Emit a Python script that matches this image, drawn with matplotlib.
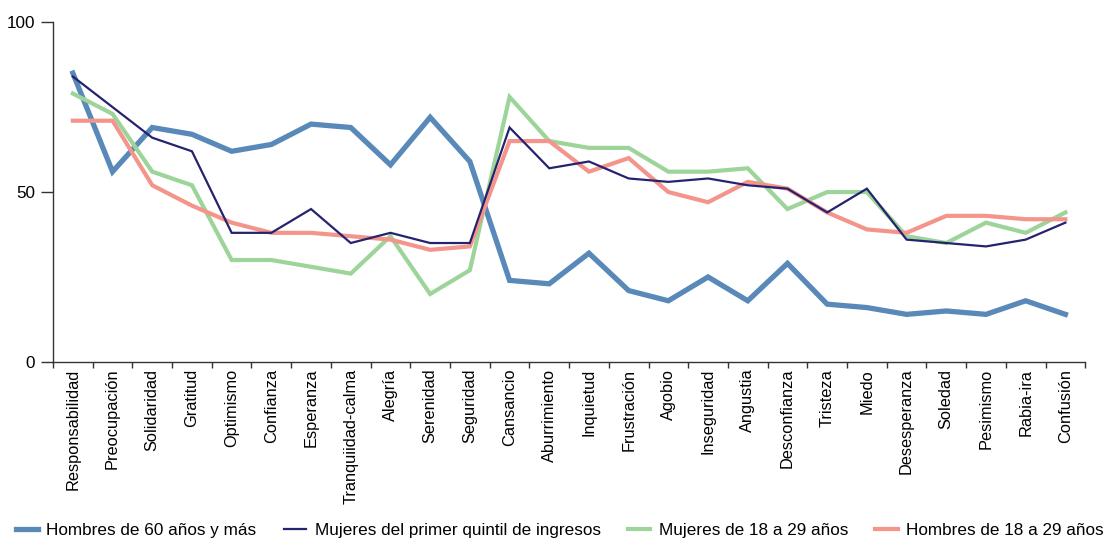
import numpy as np
import matplotlib
matplotlib.use("Agg")
import matplotlib.pyplot as plt
from matplotlib.ticker import FixedLocator

plt.rcParams.update({"font.family": ["Liberation Sans", "DejaVu Sans"], "font.size": 12})

categorias = ["Responsabilidad", "Preocupación", "Solidaridad", "Gratitud", "Optimismo",
              "Confianza", "Esperanza", "Tranquiidad-calma", "Alegría", "Serenidad",
              "Seguridad", "Cansancio", "Aburrimiento", "Inquietud", "Frustración",
              "Agobio", "Inseguridad", "Angustia", "Desconfianza", "Tristeza", "Miedo",
              "Desesperanza", "Soledad", "Pesimismo", "Rabia-ira", "Confusión"]

hombres_60 = [85, 56, 69, 67, 62, 64, 70, 69, 58, 72, 59, 24, 23, 32, 21, 18, 25, 18, 29,
              17, 16, 14, 15, 14, 18, 14]
mujeres_q1 = [84, 75, 66, 62, 38, 38, 45, 35, 38, 35, 35, 69, 57, 59, 54, 53, 54, 52, 51,
              44, 51, 36, 35, 34, 36, 41]
mujeres_18_29 = [79, 73, 56, 52, 30, 30, 28, 26, 37, 20, 27, 78, 65, 63, 63, 56, 56, 57, 45,
                 50, 50, 37, 35, 41, 38, 44]
hombres_18_29 = [71, 71, 52, 46, 41, 38, 38, 37, 36, 33, 34, 65, 65, 56, 60, 50, 47, 53, 51,
                 44, 39, 38, 43, 43, 42, 42]

series = [
    ("Hombres de 60 años y más", hombres_60, "#5889b8", 3.8, 2),
    ("Mujeres del primer quintil de ingresos", mujeres_q1, "#25236f", 1.6, 5),
    ("Mujeres de 18 a 29 años", mujeres_18_29, "#9dd49a", 3.0, 3),
    ("Hombres de 18 a 29 años", hombres_18_29, "#f4958b", 3.0, 4),
]

fig = plt.figure(figsize=(11.04, 5.41), dpi=100)
ax = fig.add_axes([0.048, 0.331, 0.935, 0.628])
x = np.arange(len(categorias))
for nombre, vals, color, lw, z in series:
    ax.plot(x, vals, color=color, lw=lw, label=nombre, zorder=z, solid_joinstyle="miter")

ax.set_xlim(-0.5, len(categorias) - 0.5)
ax.set_ylim(0, 100)
ax.set_yticks([0, 50, 100])
ax.set_xticks(x)
ax.set_xticklabels(categorias, rotation=90, fontsize=11.8, va="top", ha="center")
ax.xaxis.set_minor_locator(FixedLocator(np.arange(-0.5, len(categorias), 1.0)))
ax.tick_params(axis="x", which="major", length=0, pad=5)
ax.tick_params(axis="x", which="minor", length=4, width=1, color="#333333")
ax.tick_params(axis="y", length=9, width=1, color="#333333", labelsize=12.3, pad=4)
for s in ["top", "right"]:
    ax.spines[s].set_visible(False)
for s in ["left", "bottom"]:
    ax.spines[s].set_color("#333333")
    ax.spines[s].set_linewidth(1)

fig.legend(loc="center", bbox_to_anchor=(0.507, 0.019), ncol=4, frameon=False,
           fontsize=12.3, handlelength=1.3, handletextpad=0.5, columnspacing=1.6)

fig.savefig("out.png", dpi=100)
